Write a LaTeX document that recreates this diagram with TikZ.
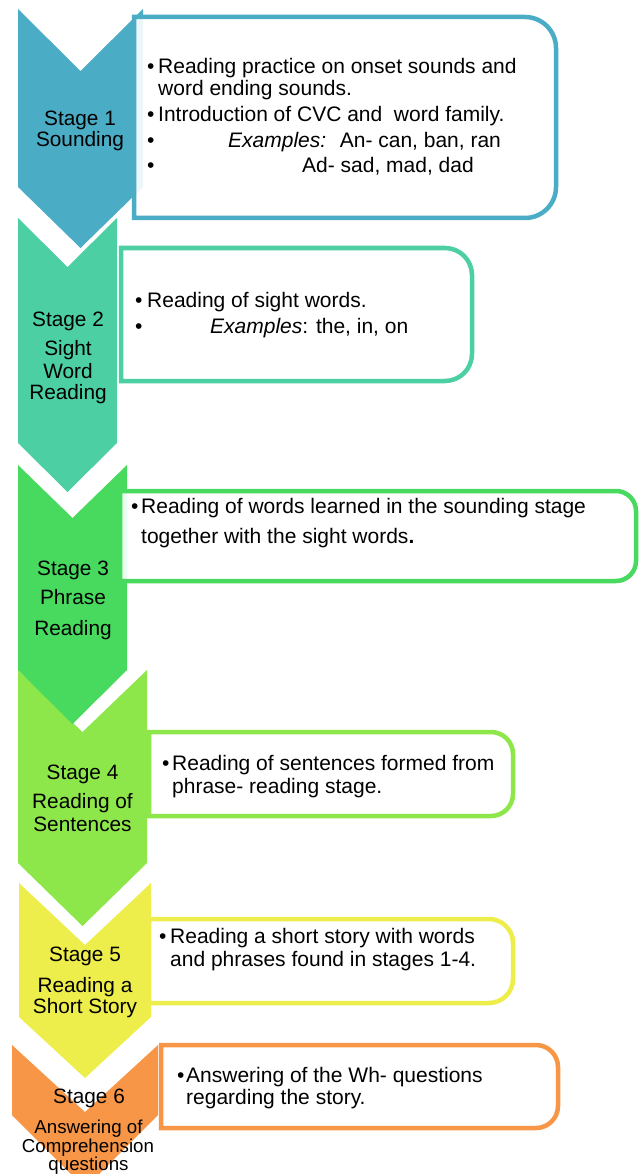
\documentclass[tikz,border=0pt]{standalone}
\usepackage{fontspec}
\setmainfont{Liberation Sans}
\definecolor{cA}{HTML}{4BACC6}
\definecolor{cB}{HTML}{4CCFA3}
\definecolor{cC}{HTML}{47DA5E}
\definecolor{cD}{HTML}{8DE64A}
\definecolor{cE}{HTML}{EDED4B}
\definecolor{cF}{HTML}{F79646}
\tikzset{
  lab/.style={anchor=base, inner sep=0pt, font=\fontsize{20.8}{22}\selectfont},
  sublab/.style={anchor=base, inner sep=0pt, font=\fontsize{18.7}{19}\selectfont},
  txt/.style={anchor=base west, inner sep=0pt, font=\fontsize{21}{22}\selectfont},
  stagebox/.style={line width=4.5pt, fill=white, fill opacity=0.9, draw opacity=1},
}
% chevron: L, R, T (top), N (notch), B (side end), P (point), colour
\newcommand{\chev}[7]{\fill[#7] (#1,#3) -- ({(#1+#2)/2},#4) -- (#2,#3) -- (#2,#5) -- ({(#1+#2)/2},#6) -- (#1,#5) -- cycle;}
% box with rounded right corners: L, T, R, B, radius, colour
\newcommand{\rbox}[6]{\path[stagebox, draw=#6] (#1,#2) -- ({#3-#5},#2) .. controls ({#3-0.448*#5},#2) and (#3,{#2+0.448*#5}) .. (#3,{#2+#5}) -- (#3,{#4-#5}) .. controls (#3,{#4-0.448*#5}) and ({#3-0.448*#5},#4) .. ({#3-#5},#4) -- (#1,#4) -- cycle;}
\begin{document}
\begin{tikzpicture}[x=1pt,y=-1pt]
\useasboundingbox (0,0) rectangle (639,1174);
\begin{scope}
\clip (0,0) rectangle (639,1174);
% chevrons (lower ones first)
\chev{12}{158}{1045}{1112}{1115}{1188}{cF}
\chev{19}{151}{883}{945}{1017}{1078}{cE}
\chev{18}{147}{670}{732}{863}{926}{cD}
\chev{18}{127}{465}{518}{670}{724}{cC}
\chev{18}{117}{218}{267}{443}{492}{cB}
\chev{18}{143}{9}{71}{187}{248}{cA}
% boxes
\rbox{134}{17}{556}{218}{31}{cA}
\rbox{121}{248}{472}{381}{27}{cB}
\rbox{120}{491}{636}{581}{20}{cC}
\rbox{149}{732}{513}{816}{22}{cD}
\rbox{149}{919}{513}{1003}{24}{cE}
\rbox{161}{1045}{558}{1128}{22}{cF}
\end{scope}
% stage labels
\node[lab] (s1a) at (80,126) {Stage 1};
\node[lab] (s1b) at (80,147) {Sounding};
\node[lab] (s2a) at (68,326) {Stage 2};
\node[lab] (s2b) at (68,355) {Sight};
\node[lab] (s2c) at (68,378) {Word};
\node[lab] (s2d) at (68,399) {Reading};
\node[lab] (s3a) at (73,575) {Stage 3};
\node[lab] (s3b) at (73,604) {Phrase};
\node[lab] (s3c) at (73,635) {Reading};
\node[lab] (s4a) at (82.5,779) {Stage 4};
\node[lab] (s4b) at (82.5,808) {Reading of};
\node[lab] (s4c) at (82.5,831) {Sentences};
\node[lab] (s5a) at (85,961) {Stage 5};
\node[lab] (s5b) at (85,992) {Reading a};
\node[lab] (s5c) at (85,1013) {Short Story};
\node[lab] (s6a) at (89,1103) {Stage 6};
\node[sublab] (s6b) at (88.5,1133) {Answering of};
\node[sublab] (s6c) at (88,1152) {Comprehension};
\node[sublab] (s6d) at (88.5,1170) {questions};
% box 1 text
\node[txt] (b1a) at (147,74) {•};
\node[txt] (t1a) at (158,74) {Reading practice on onset sounds and};
\node[txt] (t1b) at (158,96) {word ending sounds.};
\node[txt] (b1b) at (147,122) {•};
\node[txt] (t1c) at (158,122) {Introduction of CVC and~ word family.};
\node[txt] (b1c) at (147,148) {•};
\node[txt] (t1d) at (228,148) {\textit{Examples:}~ An- can, ban, ran};
\node[txt] (b1d) at (147,173) {•};
\node[txt] (t1e) at (302,173) {Ad- sad, mad, dad};
% box 2 text
\node[txt] (b2a) at (135,307) {•};
\node[txt] (t2a) at (147,307) {Reading of sight words.};
\node[txt] (b2b) at (135,333) {•};
\node[txt] (t2b) at (210,333) {\textit{Examples}: the, in, on};
% box 3 text
\node[txt] (b3a) at (131,513) {•};
\node[txt] (t3a) at (141,513) {Reading of words learned in the sounding stage};
\node[txt] (t3b) at (141,543) {together with the sight words\textbf{.}};
% box 4 text
\node[txt] (b4a) at (162,770) {•};
\node[txt] (t4a) at (172,770) {Reading of sentences formed from};
\node[txt] (t4b) at (172,793) {phrase- reading stage.};
% box 5 text
\node[txt] (b5a) at (159,943) {•};
\node[txt] (t5a) at (170,943) {Reading a short story with words};
\node[txt] (t5b) at (170,966) {and phrases found in stages 1-4.};
% box 6 text
\node[txt] (b6a) at (177,1082) {•};
\node[txt] (t6a) at (186,1082) {Answering of the Wh- questions};
\node[txt] (t6b) at (186,1104) {regarding the story.};
\end{tikzpicture}
\end{document}
